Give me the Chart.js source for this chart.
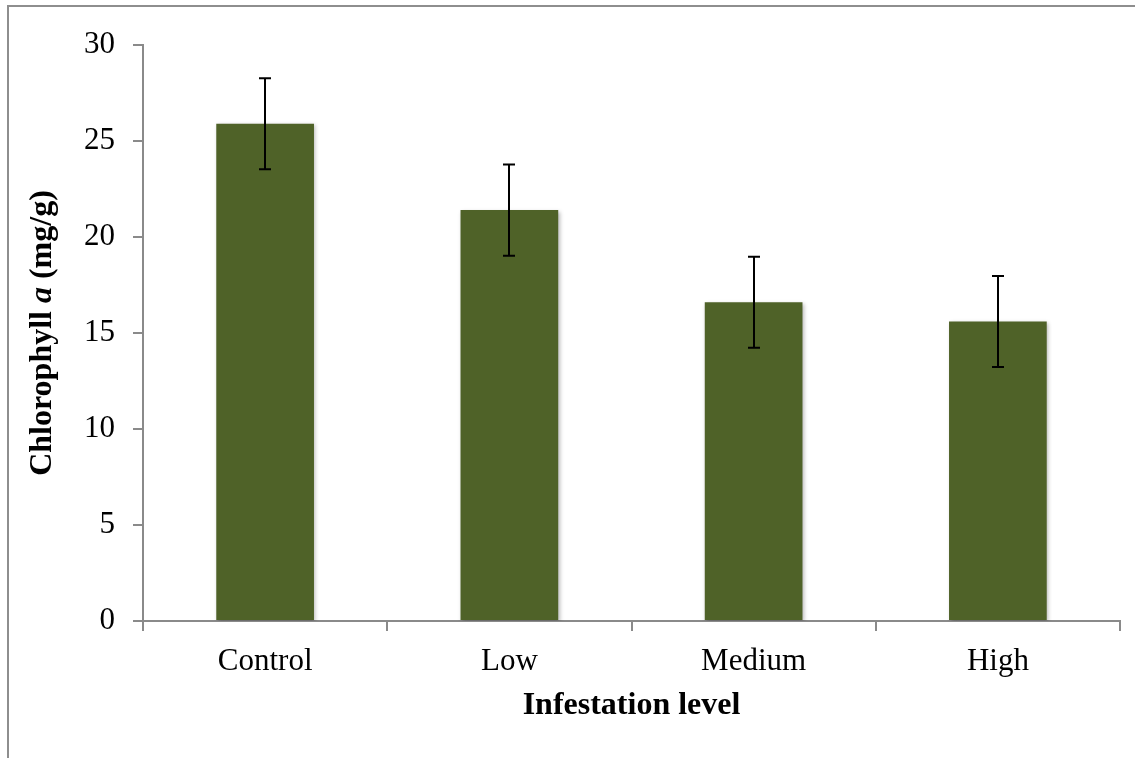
<!DOCTYPE html>
<html>
<head>
<meta charset="utf-8">
<script src="https://cdn.jsdelivr.net/npm/chart.js@4/dist/chart.umd.min.js"></script>
<style>
  html, body { margin: 0; padding: 0; background: #ffffff; }
  #wrap { width: 1135px; height: 758px; position: relative; }
</style>
</head>
<body>
<div id="wrap"><canvas id="chart" width="1135" height="758"></canvas></div>
<script>
// Infestation levels and chlorophyll a content (mean ± error)
const categories = ['Control', 'Low', 'Medium', 'High'];
const chlorophyllA = [25.9, 21.4, 16.6, 15.6];
const errorAmount = [2.37, 2.38, 2.37, 2.37];
const yTicks = [0, 5, 10, 15, 20, 25, 30];

const SERIF = '"Liberation Serif", "Times New Roman", serif';
const AXIS_GREY = '#8a8a8a';

// Outer frame of the figure (top and left edges)
const framePlugin = {
  id: 'frame',
  beforeDraw(chart) {
    const ctx = chart.ctx;
    ctx.save();
    ctx.fillStyle = '#ffffff';
    ctx.fillRect(0, 0, chart.width, chart.height);
    ctx.strokeStyle = '#8e8e8e';
    ctx.lineWidth = 2;
    ctx.beginPath();
    ctx.moveTo(8, chart.height + 2);
    ctx.lineTo(8, 6);
    ctx.lineTo(chart.width + 2, 6);
    ctx.stroke();
    ctx.restore();
  }
};

// Soft drop shadow under the bars
const barShadowPlugin = {
  id: 'barShadow',
  beforeDatasetsDraw(chart) {
    const ctx = chart.ctx;
    ctx.save();
    ctx.shadowColor = 'rgba(0,0,0,0.28)';
    ctx.shadowBlur = 4;
    ctx.shadowOffsetX = 1.5;
    ctx.shadowOffsetY = 1.5;
  },
  afterDatasetsDraw(chart) {
    chart.ctx.restore();
  }
};

// Error bars with caps, positioned through the chart scales
const errorBarPlugin = {
  id: 'errorBars',
  afterDatasetsDraw(chart) {
    const ctx = chart.ctx;
    const yScale = chart.scales.y;
    const meta = chart.getDatasetMeta(0);
    ctx.save();
    ctx.strokeStyle = '#000000';
    ctx.lineWidth = 2;
    meta.data.forEach((bar, i) => {
      const v = chlorophyllA[i];
      const e = errorAmount[i];
      const x = Math.round(bar.x);
      const yHi = yScale.getPixelForValue(v + e);
      const yLo = yScale.getPixelForValue(v - e);
      const cap = 6;
      ctx.beginPath();
      ctx.moveTo(x, yHi);
      ctx.lineTo(x, yLo);
      ctx.moveTo(x - cap, yHi);
      ctx.lineTo(x + cap, yHi);
      ctx.moveTo(x - cap, yLo);
      ctx.lineTo(x + cap, yLo);
      ctx.stroke();
    });
    ctx.restore();
  }
};

// Vertical axis title with an italic "a"
const yTitlePlugin = {
  id: 'yTitle',
  afterDraw(chart) {
    const ctx = chart.ctx;
    const area = chart.chartArea;
    const parts = [
      { text: 'Chlorophyll ', font: 'bold 32px ' + SERIF },
      { text: 'a', font: 'italic bold 32px ' + SERIF },
      { text: ' (mg/g)', font: 'bold 32px ' + SERIF }
    ];
    let total = 0;
    parts.forEach(p => { ctx.font = p.font; p.w = ctx.measureText(p.text).width; total += p.w; });
    ctx.save();
    ctx.translate(43, (area.top + area.bottom) / 2);
    ctx.rotate(-Math.PI / 2);
    ctx.fillStyle = '#000000';
    ctx.textBaseline = 'middle';
    ctx.textAlign = 'left';
    let x = -total / 2;
    parts.forEach(p => { ctx.font = p.font; ctx.fillText(p.text, x, 0); x += p.w; });
    ctx.restore();
  }
};

new Chart(document.getElementById('chart'), {
  type: 'bar',
  data: {
    labels: categories,
    datasets: [{
      data: chlorophyllA,
      backgroundColor: '#4f6228',
      borderWidth: 0,
      categoryPercentage: 1.0,
      barPercentage: 0.4
    }]
  },
  options: {
    responsive: false,
    animation: false,
    devicePixelRatio: 1,
    layout: { padding: { left: 0, right: 15, top: 45, bottom: 0 } },
    plugins: {
      legend: { display: false },
      tooltip: { enabled: false }
    },
    scales: {
      y: {
        min: 0,
        max: 30,
        afterBuildTicks(scale) { scale.ticks = yTicks.map(v => ({ value: v })); },
        afterFit(scale) { scale.width = 143; },
        border: { display: true, color: AXIS_GREY, width: 2 },
        grid: { drawOnChartArea: false, drawTicks: true, tickLength: 10, color: AXIS_GREY, lineWidth: 2 },
        ticks: { color: '#000000', font: { family: SERIF, size: 31 }, padding: 18 }
      },
      x: {
        afterFit(scale) { scale.height = 137; },
        border: { display: true, color: AXIS_GREY, width: 2 },
        grid: { drawOnChartArea: false, drawTicks: true, tickLength: 10, color: AXIS_GREY, lineWidth: 2, offset: true },
        ticks: { color: '#000000', font: { family: SERIF, size: 31 }, padding: 12 },
        title: {
          display: true,
          text: 'Infestation level',
          color: '#000000',
          font: { family: SERIF, size: 32, weight: 'bold' },
          padding: { top: 0, bottom: 33 }
        }
      }
    }
  },
  plugins: [framePlugin, barShadowPlugin, errorBarPlugin, yTitlePlugin]
});
</script>
</body>
</html>
